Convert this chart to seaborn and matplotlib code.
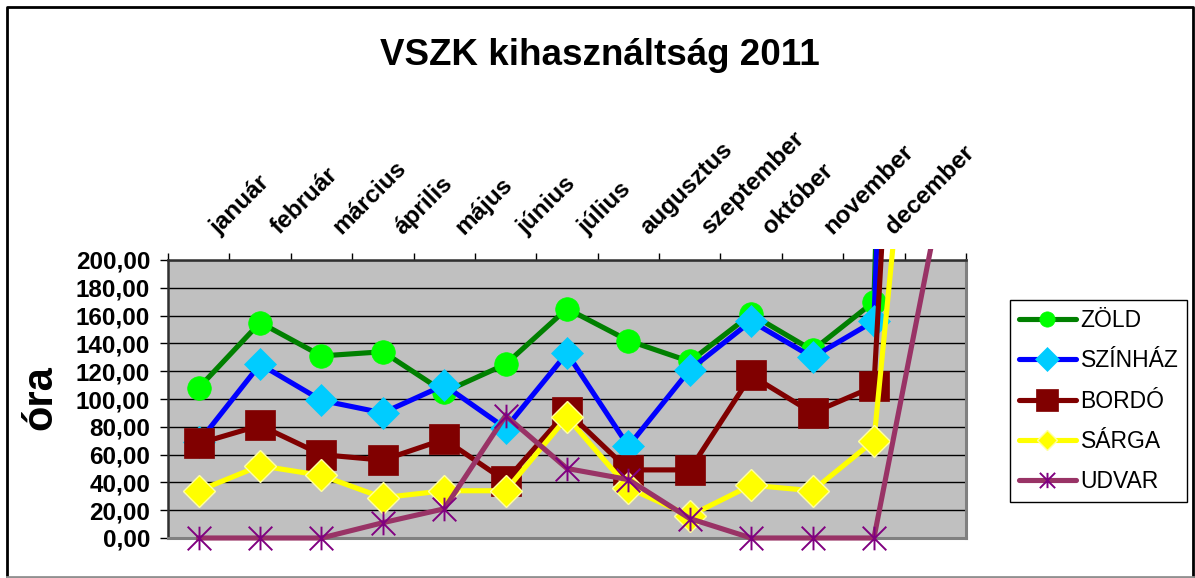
import numpy as np
import pandas as pd
import matplotlib
matplotlib.use("Agg")
import matplotlib.pyplot as plt
import seaborn as sns
from matplotlib.path import Path
from matplotlib.lines import Line2D
from matplotlib.patches import Rectangle

# ---------------- data ----------------
months = ["január", "február", "március", "április", "május", "június",
          "július", "augusztus", "szeptember", "október", "november", "december", ""]
zold = [108, 155, 131, 134, 105, 125, 165, 142, 127, 161, 135, 170, 1665]
szinhaz = [69, 125, 99, 90, 110, 79, 133, 66, 121, 156, 130, 156, 1340]
bordo = [68, 81, 60, 56, 71, 41, 91, 49, 49, 117, 90, 109, 900]
sarga = [34, 52, 45, 29, 34, 34, 87, 36, 16, 38, 34, 70, 520]
udvar = [0, 0, 0, 11, 21, 88, 50, 42, 14, 0, 0, 0, 225]
series_names = ["ZÖLD", "SZÍNHÁZ", "BORDÓ", "SÁRGA", "UDVAR"]
title = "VSZK kihasználtság 2011"
ylabel = "óra"
yticks = list(range(0, 201, 20))

W, H = 1195, 578
plt.rcParams['font.family'] = ['Liberation Sans', 'DejaVu Sans']

rows = []
for name, vals in zip(series_names, [zold, szinhaz, bordo, sarga, udvar]):
    for i, v in enumerate(vals):
        rows.append({"series": name, "pos": i, "value": v})
df = pd.DataFrame(rows)

asterisk = Path([(0, -1), (0, 1), (-1, -1), (1, 1), (-1, 1), (1, -1)],
                [Path.MOVETO, Path.LINETO, Path.MOVETO, Path.LINETO, Path.MOVETO, Path.LINETO])

styles = {
    "ZÖLD":    dict(lc="#008000", marker="o", ms=17, mfc="#00FF00", mec="#00FF00", mew=0.5, lms=11),
    "SZÍNHÁZ": dict(lc="#0000FF", marker="D", ms=16.5, mfc="#00CCFF", mec="#00CCFF", mew=0.5, lms=12),
    "BORDÓ":   dict(lc="#800000", marker="s", ms=21, mfc="#800000", mec="#800000", mew=0.5, lms=15.5),
    "SÁRGA":   dict(lc="#FFFF00", marker="D", ms=16, mfc="#FFFF00", mec="#FFFFA0", mew=1.0, lms=10.5),
    "UDVAR":   dict(lc="#993366", marker=asterisk, ms=17, mfc="none", mec="#800080", mew=1.4, lms=11),
}

fig = plt.figure(figsize=(W / 100, H / 100), dpi=100)
ax = fig.add_axes([168 / W, 40 / H, 798 / W, 278 / H])
ax.set_facecolor("#C0C0C0")
ax.set_xlim(-0.5, 12.5)
ax.set_ylim(0, 200)
ax.set_axisbelow(True)
ax.yaxis.grid(True, color="black", lw=1.0)
ax.xaxis.grid(False)

clip_rect = Rectangle((0, -0.06), 1, 1.06 + 11 / 278, transform=ax.transAxes,
                      facecolor="none", edgecolor="none")
ax.add_patch(clip_rect)

for k, name in enumerate(series_names):
    st = styles[name]
    sub = df[df["series"] == name]
    n_before = len(ax.lines)
    sns.lineplot(data=sub, x="pos", y="value", color=st["lc"], lw=3.7, ax=ax,
                 legend=False, zorder=3 + 2 * k)
    for ln in ax.lines[n_before:]:
        ln.set_clip_path(clip_rect)
        ln.set_solid_joinstyle("miter")
    pts = sub[sub["pos"] < 12]
    ax.plot(pts["pos"], pts["value"], ls="none", marker=st["marker"], ms=st["ms"],
            mfc=st["mfc"], mec=st["mec"], mew=st["mew"], clip_on=False, zorder=4 + 2 * k)

ax.set_xlabel("")
ax.set_ylabel("")

# y axis
ax.set_yticks(yticks)
ax.set_yticklabels([f"{v:.2f}".replace(".", ",") for v in yticks],
                   fontsize=17.5, fontweight="bold")
ax.tick_params(axis="y", direction="out", length=5.8, width=1, color="black", pad=7)

# x axis: boundary ticks on top, labels placed manually
ax.xaxis.tick_top()
ax.set_xticks(np.arange(-0.5, 13, 1))
ax.set_xticklabels([])
ax.tick_params(axis="x", direction="out", length=5, width=1, color="black",
               top=True, bottom=False, labeltop=False)
for i, m in enumerate(months):
    if m:
        ax.annotate(m, xy=(i, 1), xycoords=("data", "axes fraction"),
                    xytext=(20 * 0.72, 25 * 0.72), textcoords="offset points",
                    rotation=45, rotation_mode="anchor", ha="left", va="baseline",
                    fontsize=17.5, fontweight="bold", annotation_clip=False)

for side in ["top", "left"]:
    ax.spines[side].set_color("#303030")
    ax.spines[side].set_linewidth(1.8)
for side in ["right", "bottom"]:
    ax.spines[side].set_color("#808080")
    ax.spines[side].set_linewidth(2.2)

# title and y label
fig.text(600 / W, 1 - 65 / H, title, ha="center", va="baseline",
         fontsize=26.5, fontweight="bold")
fig.text(40 / W, 1 - 398 / H, ylabel, rotation=90, ha="center", va="center",
         fontsize=30, fontweight="bold")

# legend
handles = []
for name in series_names:
    st = styles[name]
    handles.append(Line2D([], [], color=st["lc"], lw=3.7, marker=st["marker"],
                          ms=st["lms"], mfc=st["mfc"], mec=st["mec"], mew=st["mew"],
                          solid_capstyle="round"))
leg = fig.legend(handles, series_names, loc="upper left",
                 bbox_to_anchor=(1010 / W, 1 - 300 / H), fontsize=16.5,
                 frameon=True, fancybox=False, edgecolor="black", framealpha=1,
                 handlelength=2.5, handletextpad=0.2, labelspacing=0.76,
                 borderpad=0.38, borderaxespad=0)
leg.get_frame().set_linewidth(1.0)

# outer chart border
fig.add_artist(Line2D([7 / W, 7 / W, 1193 / W, 1193 / W], [1 / H, 1 - 7 / H, 1 - 7 / H, 1 / H],
                      color="black", lw=2, transform=fig.transFigure))
fig.add_artist(Line2D([7 / W, 1193 / W], [1 / H, 1 / H], color="#909090", lw=2,
                      transform=fig.transFigure))

fig.savefig("out.png", dpi=100)
